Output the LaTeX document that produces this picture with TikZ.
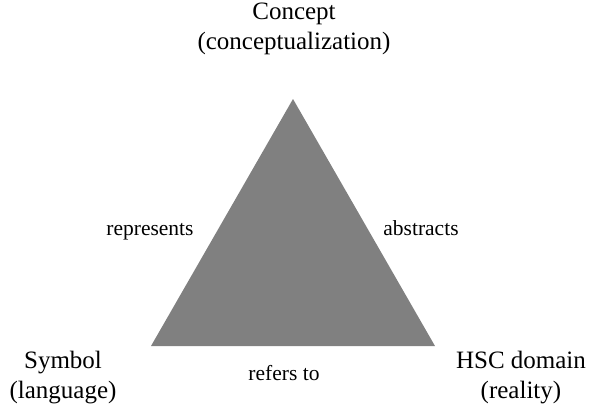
\documentclass[tikz,border=0pt]{standalone}
\usepackage{fontspec}
\setmainfont{Liberation Serif}
\usetikzlibrary{positioning}

\tikzset{
  corner/.style={align=center, font=\fontsize{25}{30}\selectfont, inner sep=0pt},
  side/.style={font=\fontsize{21.5}{24}\selectfont, inner sep=0pt, anchor=base}
}

\begin{document}
\begin{tikzpicture}[x=1pt, y=-1pt]
            \useasboundingbox (0,0) rectangle (598,408);
            % Semiotic triangle
            \coordinate (top) at (293,99);
            \coordinate (left) at (151,346);
            \coordinate (right) at (435,346);
            \fill[gray] (top) -- (left) -- (right) -- cycle;

            \node[corner] (concept) at (294,29) {Concept\\(conceptualization)};
            \node[corner] (symbol) at (63,378) {Symbol\\(language)};
            \node[corner] (domain) at (521,378) {HSC domain\\(reality)};

            \node[side] (represents) at (150,235) {represents};
            \node[side] (abstracts) at (421,235) {abstracts};
            \node[side] (refers) at (284,380) {refers to};
        \end{tikzpicture}
\end{document}
